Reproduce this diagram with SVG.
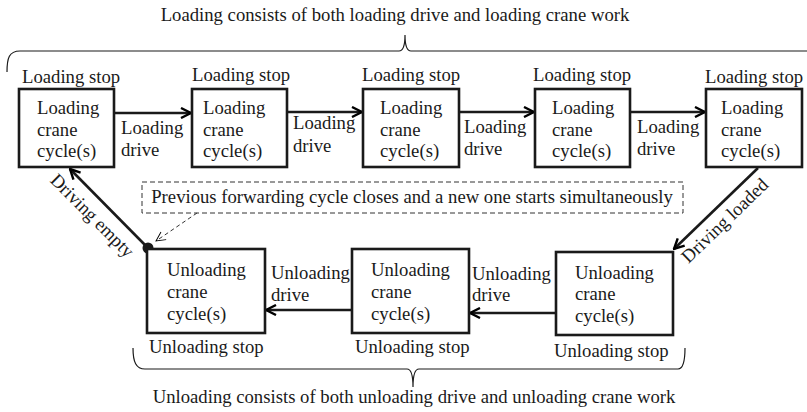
<svg xmlns="http://www.w3.org/2000/svg" width="807" height="412" viewBox="0 0 807 412">
  <defs>
    <marker id="arr" viewBox="0 0 12 12" refX="11" refY="6" markerWidth="12" markerHeight="12" markerUnits="userSpaceOnUse" orient="auto">
      <path d="M1,1 L11,6 L1,11" fill="none" stroke="#000" stroke-width="2.4"/>
    </marker>
    <marker id="arrThin" viewBox="0 0 12 12" refX="11" refY="6" markerWidth="11" markerHeight="11" markerUnits="userSpaceOnUse" orient="auto">
      <path d="M1,1 L11,6 L1,11" fill="none" stroke="#000" stroke-width="1"/>
    </marker>
  </defs>
  <style>
    text { font-family: "Liberation Serif", "Times New Roman", serif; font-size: 18.7px; fill: #1a1a1a; }
    .box { fill: #fff; stroke: #1a1a1a; stroke-width: 2.6; }
    .conn { stroke: #1a1a1a; stroke-width: 2.6; fill: none; marker-end: url(#arr); }
    .brace { stroke: #1a1a1a; stroke-width: 1.2; fill: none; }
    .note { fill: none; stroke: #333; stroke-width: 1; stroke-dasharray: 5 3; }
  </style>
  <rect width="807" height="412" fill="#fff"/>

  <!-- braces and their captions -->
  <g id="loading-brace">
    <path class="brace" d="M7,72 C7,58 9,51 20,51 H399 C403,51 405,45 405,35 C405,45 407,51 411,51 H807"/>
    <text x="395" y="21" text-anchor="middle">Loading consists of both loading drive and loading crane work</text>
  </g>
  <g id="unloading-brace">
    <path class="brace" d="M133,348 C133,362 136,369 145,369 H407 C411,369 413,375 413,387 C413,375 415,369 419,369 H678 C683,369 685,362 685,348"/>
    <text x="414" y="403" text-anchor="middle">Unloading consists of both unloading drive and unloading crane work</text>
  </g>

  <!-- connectors -->
  <g id="connectors">
    <line class="conn" x1="114" y1="113" x2="191" y2="113"/>
    <line class="conn" x1="287" y1="112" x2="362" y2="112"/>
    <line class="conn" x1="459" y1="112" x2="534" y2="112"/>
    <line class="conn" x1="630" y1="112" x2="705" y2="112"/>
    <line class="conn" x1="758" y1="168" x2="674" y2="249"/>
    <line class="conn" x1="556" y1="313" x2="470" y2="313"/>
    <line class="conn" x1="352" y1="310" x2="266" y2="310"/>
    <line class="conn" x1="148" y1="248" x2="70" y2="169"/>
    <circle cx="148" cy="248" r="5.5" fill="#1a1a1a"/>
    <line x1="197" y1="213" x2="156" y2="241" stroke="#333" stroke-width="1" stroke-dasharray="4 3" marker-end="url(#arrThin)"/>

    <text x="121" y="134">Loading</text>
    <text x="121" y="156">drive</text>
    <text x="293" y="129">Loading</text>
    <text x="293" y="152">drive</text>
    <text x="464" y="133">Loading</text>
    <text x="464" y="155">drive</text>
    <text x="637" y="133">Loading</text>
    <text x="637" y="155">drive</text>
    <text x="472" y="280">Unloading</text>
    <text x="472" y="301">drive</text>
    <text x="271" y="279">Unloading</text>
    <text x="271" y="301">drive</text>
    <text transform="translate(729,225) rotate(-44)" text-anchor="middle">Driving loaded</text>
    <text transform="translate(88,220) rotate(45)" text-anchor="middle">Driving empty</text>
  </g>

  <!-- note on the closing point -->
  <g id="note">
    <rect class="note" x="142" y="182" width="541" height="31"/>
    <text x="412" y="203" text-anchor="middle">Previous forwarding cycle closes and a new one starts simultaneously</text>
  </g>

  <!-- loading stops -->
  <g id="load1">
    <text x="22" y="83">Loading stop</text>
    <rect class="box" x="19" y="89" width="95" height="78"/>
    <text x="37" y="114">Loading</text><text x="37" y="136">crane</text><text x="37" y="157">cycle(s)</text>
  </g>
  <g id="load2">
    <text x="192" y="81">Loading stop</text>
    <rect class="box" x="192" y="89" width="95" height="78"/>
    <text x="203" y="114">Loading</text><text x="203" y="136">crane</text><text x="203" y="157">cycle(s)</text>
  </g>
  <g id="load3">
    <text x="362" y="81">Loading stop</text>
    <rect class="box" x="363" y="89" width="96" height="78"/>
    <text x="380" y="114">Loading</text><text x="380" y="136">crane</text><text x="380" y="157">cycle(s)</text>
  </g>
  <g id="load4">
    <text x="533" y="81">Loading stop</text>
    <rect class="box" x="535" y="89" width="95" height="78"/>
    <text x="552" y="114">Loading</text><text x="552" y="136">crane</text><text x="552" y="157">cycle(s)</text>
  </g>
  <g id="load5">
    <text x="705" y="83">Loading stop</text>
    <rect class="box" x="706" y="89" width="96" height="78"/>
    <text x="721" y="114">Loading</text><text x="721" y="136">crane</text><text x="721" y="157">cycle(s)</text>
  </g>

  <!-- unloading stops -->
  <g id="unload1">
    <rect class="box" x="556" y="252" width="117" height="83"/>
    <text x="575" y="279">Unloading</text><text x="575" y="300">crane</text><text x="575" y="322">cycle(s)</text>
    <text x="554" y="357">Unloading stop</text>
  </g>
  <g id="unload2">
    <rect class="box" x="352" y="249" width="117" height="84"/>
    <text x="371" y="276">Unloading</text><text x="371" y="298">crane</text><text x="371" y="320">cycle(s)</text>
    <text x="355" y="353">Unloading stop</text>
  </g>
  <g id="unload3">
    <rect class="box" x="147" y="249" width="118" height="84"/>
    <text x="167" y="276">Unloading</text><text x="167" y="298">crane</text><text x="167" y="320">cycle(s)</text>
    <text x="149" y="353">Unloading stop</text>
  </g>
</svg>
